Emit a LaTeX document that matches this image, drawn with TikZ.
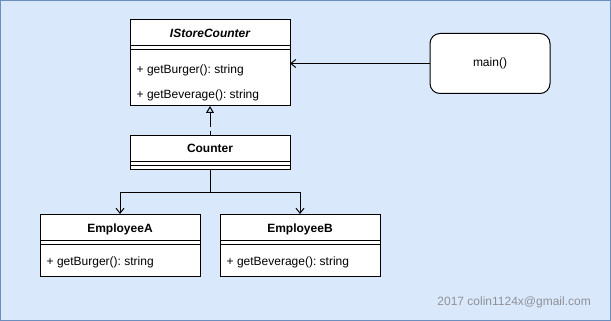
\documentclass[tikz,border=0pt]{standalone}
\usepackage{fontspec}
\setmainfont{Liberation Sans}
\usetikzlibrary{positioning,arrows.meta}
\definecolor{bgfill}{HTML}{DAE8FC}
\definecolor{bgline}{HTML}{6C8EBF}
\definecolor{notegray}{HTML}{8E9196}
\frenchspacing

\begin{document}
\begin{tikzpicture}[x=1pt,y=-1pt,font=\fontsize{12}{14}\selectfont,
  box/.style={rectangle,draw,fill=white,minimum width=160pt,inner sep=0pt,outer sep=0pt,line width=1pt},
  head/.style={box,minimum height=26pt,text height=10pt,text depth=0pt,font=\fontsize{12}{14}\selectfont\bfseries},
  op/.style={anchor=base west,inner sep=0pt},
  inherit/.style={dash pattern=on 14pt off 4pt,line width=1pt},
  assoc/.style={-{Straight Barb[length=5pt,width=8pt]},line width=1pt}
  ]
    \useasboundingbox (0,0) rectangle (611,321);
    \fill[bgfill] (0,0) rectangle (611,321);
    \draw[bgline] (0.5,0.5) rectangle (610.5,320.5);

    % interface
    \node[head,font=\fontsize{12}{14}\selectfont\bfseries\itshape] (iface) at (210,33) {IStoreCounter};
    \node[box,minimum height=4pt,below=0pt of iface] (ifaceattr) {};
    \node[box,minimum height=56pt,below=0pt of ifaceattr] (ifaceops) {};
    \node[op] (ifaceop1) at (136.5,73.3) {+ getBurger(): string};
    \node[op] (ifaceop2) at (136.5,98.3) {+ getBeverage(): string};

    % counter
    \node[head] (counter) at (210,148) {Counter};
    \node[box,minimum height=4pt,below=0pt of counter] (counterattr) {};
    \node[box,minimum height=4pt,below=0pt of counterattr] (counterops) {};

    % employees
    \node[head] (empA) at (120,227) {EmployeeA};
    \node[box,minimum height=4pt,below=0pt of empA] (empAattr) {};
    \node[box,minimum height=32pt,below=0pt of empAattr] (empAops) {};
    \node[op] (empAop) at (46.5,265) {+ getBurger(): string};

    \node[head] (empB) at (300,227) {EmployeeB};
    \node[box,minimum height=4pt,below=0pt of empB] (empBattr) {};
    \node[box,minimum height=32pt,below=0pt of empBattr] (empBops) {};
    \node[op] (empBop) at (226.5,265) {+ getBeverage(): string};

    \node[box,rounded corners=10pt,minimum width=120pt,minimum height=60pt] (main) at (490,63.5) {main()};

    \draw[assoc] (main.west) -- (main.west -| ifaceops.east);
    \draw[inherit,{Triangle[open,length=7pt,width=8pt]}-] (ifaceops.south) -- (counter.north);

    \coordinate (split) at (210,192);
    \draw[line width=1pt] (counterops.south) -- (split);
    \draw[assoc] (split) -| (empA.north);
    \draw[assoc] (split) -| (empB.north);

    \node[anchor=base east,text=notegray,inner sep=0pt] (credit) at (591,305) {2017 colin1124x@gmail.com};
\end{tikzpicture}
\end{document}
